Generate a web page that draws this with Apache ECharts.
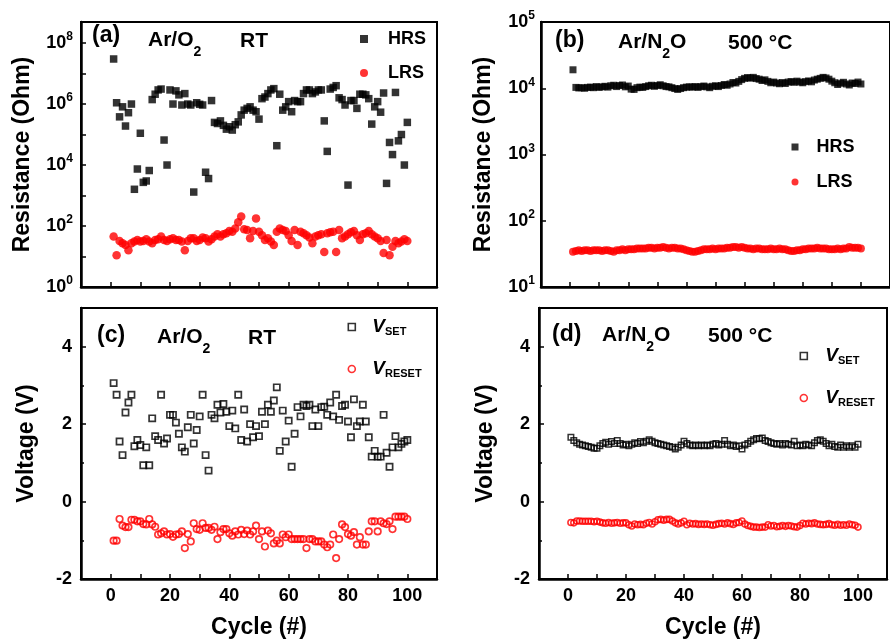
<!DOCTYPE html>
<html><head><meta charset="utf-8">
<script src="https://cdn.jsdelivr.net/npm/echarts@6/dist/echarts.min.js"></script>
<style>html,body{margin:0;padding:0;background:#fff}#c{width:890px;height:641px}</style>
</head><body><div id="c"></div>
<script>
// ---------- data ----------
const cycles = [1,2,3,4,5,6,7,8,9,10,11,12,13,14,15,16,17,18,19,20,21,22,23,24,25,26,27,28,29,30,31,32,33,34,35,36,37,38,39,40,41,42,43,44,45,46,47,48,49,50,51,52,53,54,55,56,57,58,59,60,61,62,63,64,65,66,67,68,69,70,71,72,73,74,75,76,77,78,79,80,81,82,83,84,85,86,87,88,89,90,91,92,93,94,95,96,97,98,99,100];

// (a) Ar/O2 RT resistance (Ohm)
const hrsA = [3.0e7,1.1e6,3.8e5,8.1e5,1.9e5,5.2e5,1.0e6,1.6e3,7.4e3,1.1e5,
 2.7e3,3.0e3,6.6e3,1.4e6,2.1e6,2.9e6,3.1e6,6.6e4,1.0e4,2.9e6,
 1.0e6,2.7e6,2.0e6,9.3e5,2.2e6,1.0e6,9.3e5,1.3e3,1.1e6,9.8e5,
 9.3e5,5.8e3,3.6e3,1.3e6,2.5e5,2.3e5,2.8e5,2.0e5,1.5e5,1.8e5,
 1.4e5,2.1e5,2.6e5,4.4e5,6.3e5,7.2e5,8.1e5,6.3e5,5.6e5,3.2e5,
 1.5e6,1.7e6,2.2e6,2.9e6,3.2e6,4.3e4,2.1e6,6.3e5,8.1e5,1.2e6,
 5.6e5,1.3e6,1.2e6,1.2e6,2.2e6,2.9e6,2.9e6,2.2e6,2.5e6,2.9e6,
 2.9e6,2.8e5,2.8e4,3.1e6,3.5e6,4.0e6,1.6e6,1.4e6,9.3e5,2.2e3,
 1.3e6,1.3e6,7.2e5,2.1e6,2.1e6,2.0e6,1.5e6,2.2e5,8.1e5,1.2e6,
 5.4e5,2.3e6,2.5e3,5.5e4,2.2e4,2.4e6,6.2e4,1.0e5,1.0e4,2.5e5];
const lrsA = [45,11,32,27,24,16,27,31,35,31,
 32,37,31,27,35,37,45,35,32,37,
 40,35,35,31,16,32,40,40,32,35,
 42,40,31,37,45,54,45,54,58,69,
 65,83,132,204,79,74,40,69,178,65,
 50,35,40,31,24,65,83,74,69,50,
 32,74,24,65,58,50,42,27,45,50,
 54,14,58,62,65,14,74,40,45,54,
 62,69,50,35,54,58,69,54,45,40,
 32,13,35,11,21,32,27,31,37,32];

// (b) Ar/N2O 500 C resistance (Ohm)
const hrsB = [19000,10300,10100,10200,10000,10300,10400,10200,10600,10300,
 10500,10700,10400,10900,11100,10600,11000,11200,10500,10800,
 9700,9600,10200,10400,10300,10600,10900,11100,10700,11000,
 11300,10900,10600,10500,10200,9900,9600,9900,10200,10400,
 10500,10400,10600,10300,10600,10800,10500,10200,10700,10900,
 10600,11000,11400,11100,11600,12200,12000,12700,13500,14100,
 14500,14200,14600,14000,13700,13100,13400,12700,12100,12400,
 12000,11700,12200,11800,12400,12600,12300,12800,12400,12100,
 12600,12900,12500,13300,13700,14100,14600,14300,13700,12800,
 12100,11400,11900,12300,11600,11200,12000,11800,12400,11600];
const lrsB = [34,35,36,35,36,36,35,36,36,36,
 35,36,36,35,34,36,36,37,36,37,
 37,37,38,38,38,38,39,39,38,39,
 39,40,39,38,39,39,38,38,37,36,
 35,34,34,35,36,37,37,37,38,37,
 38,38,38,39,39,40,40,39,40,39,
 38,38,37,38,38,37,37,37,38,37,
 37,38,37,37,36,35,35,36,36,37,
 37,38,38,38,39,38,38,38,37,37,
 37,38,37,38,38,40,39,39,39,38];

// (c) Ar/O2 RT voltage (V)
const vsetC = [3.06,2.76,1.55,1.20,2.30,2.56,2.76,1.43,1.59,1.46,
 0.94,1.40,0.94,2.15,1.69,1.59,2.76,1.50,1.63,2.24,
 2.24,2.04,1.75,1.40,1.29,1.92,2.24,1.50,1.85,2.20,
 2.76,1.20,0.80,2.24,2.15,2.50,2.30,2.52,2.32,1.95,
 2.35,1.89,2.76,1.59,2.38,1.55,2.00,1.66,1.95,1.69,
 2.32,2.00,2.50,2.32,2.61,2.95,1.31,2.35,1.55,2.09,
 0.90,1.75,2.44,2.20,2.50,2.47,2.50,1.95,2.38,1.95,
 2.44,2.45,2.24,2.56,2.20,2.76,2.11,2.47,2.50,2.07,
 1.66,2.64,1.95,2.07,2.50,2.07,1.66,1.16,1.31,1.16,
 1.16,2.24,1.26,0.90,1.40,1.69,1.40,1.49,1.55,1.59];
const vresetC = [-1.01,-1.01,-0.45,-0.62,-0.66,-0.66,-0.47,-0.47,-0.51,-0.51,
 -0.58,-0.59,-0.45,-0.59,-0.65,-0.85,-0.82,-0.77,-0.85,-0.84,
 -0.91,-0.85,-0.84,-0.77,-1.20,-0.84,-1.03,-0.56,-0.71,-0.73,
 -0.56,-0.68,-0.68,-0.73,-0.65,-0.97,-0.79,-0.71,-0.71,-0.82,
 -0.88,-0.77,-0.85,-0.73,-0.84,-0.75,-0.85,-0.77,-0.62,-0.97,
 -0.77,-1.16,-0.75,-0.82,-1.08,-1.01,-1.08,-0.85,-0.92,-0.85,
 -0.97,-0.97,-0.97,-0.97,-0.97,-1.20,-0.97,-0.97,-1.03,-1.03,
 -1.03,-1.11,-1.18,-1.11,-0.85,-1.46,-0.97,-0.59,-0.66,-0.84,
 -0.88,-0.79,-1.11,-0.92,-1.11,-1.11,-0.77,-0.51,-0.51,-0.77,
 -0.51,-0.56,-0.58,-0.51,-0.71,-0.39,-0.39,-0.39,-0.39,-0.45];

// (d) Ar/N2O 500 C voltage (V)
const vsetD = [1.66,1.58,1.52,1.48,1.46,1.44,1.42,1.40,1.38,1.38,
 1.44,1.50,1.53,1.48,1.55,1.50,1.58,1.50,1.46,1.48,
 1.44,1.48,1.52,1.50,1.55,1.52,1.56,1.60,1.56,1.52,
 1.50,1.48,1.46,1.44,1.42,1.40,1.36,1.40,1.46,1.56,
 1.50,1.46,1.44,1.46,1.44,1.46,1.44,1.46,1.44,1.48,
 1.50,1.46,1.48,1.58,1.48,1.44,1.46,1.42,1.44,1.36,
 1.46,1.50,1.56,1.60,1.63,1.62,1.64,1.58,1.55,1.52,
 1.50,1.48,1.50,1.46,1.50,1.48,1.46,1.56,1.44,1.46,
 1.44,1.48,1.46,1.44,1.52,1.58,1.60,1.56,1.50,1.44,
 1.48,1.42,1.40,1.46,1.40,1.44,1.40,1.44,1.40,1.48];
const vresetD = [-0.54,-0.55,-0.50,-0.50,-0.51,-0.51,-0.51,-0.51,-0.52,-0.51,
 -0.53,-0.55,-0.56,-0.54,-0.56,-0.55,-0.54,-0.56,-0.55,-0.55,
 -0.60,-0.63,-0.58,-0.60,-0.59,-0.60,-0.56,-0.54,-0.58,-0.52,
 -0.47,-0.46,-0.48,-0.46,-0.46,-0.50,-0.55,-0.58,-0.55,-0.51,
 -0.60,-0.56,-0.58,-0.57,-0.59,-0.58,-0.59,-0.58,-0.60,-0.61,
 -0.59,-0.57,-0.56,-0.58,-0.55,-0.57,-0.59,-0.55,-0.54,-0.50,
 -0.58,-0.62,-0.64,-0.66,-0.66,-0.67,-0.66,-0.66,-0.60,-0.63,
 -0.62,-0.65,-0.64,-0.62,-0.64,-0.62,-0.63,-0.65,-0.66,-0.62,
 -0.56,-0.58,-0.56,-0.57,-0.55,-0.58,-0.59,-0.60,-0.59,-0.57,
 -0.60,-0.61,-0.59,-0.61,-0.60,-0.61,-0.58,-0.60,-0.61,-0.66];

const xTickLabels = [0,20,40,60,80,100];

// ---------- chart ----------
const FONT = '"Liberation Sans", Arial, Helvetica, sans-serif';
const BLACK = '#000';
const RED = '#ff0000';
const chart = echarts.init(document.getElementById('c'), null, {renderer: 'canvas'});
const pairs = arr => cycles.map((c, i) => [c, arr[i]]);

const axisLineCfg = {show: true, onZero: false, lineStyle: {color: BLACK, width: 2.5}};
const tickCfg = {show: true, inside: true, length: 5, lineStyle: {color: BLACK, width: 1.5}};
const titleStyle = {fontSize: 23, fontWeight: 'bold', fontFamily: FONT, color: BLACK};

function xAxisCfg(gi, showLabels) {
  return {
    type: 'value', gridIndex: gi, min: -10, max: 110, interval: 10,
    axisLine: axisLineCfg, axisTick: tickCfg, splitLine: {show: false},
    axisLabel: {show: showLabels, margin: 8, fontSize: 18, fontWeight: 'bold', color: BLACK, fontFamily: FONT,
      formatter: v => xTickLabels.indexOf(v) >= 0 ? String(v) : ''},
    name: showLabels ? 'Cycle (#)' : '', nameLocation: 'middle', nameGap: 37, nameTextStyle: titleStyle
  };
}
function logAxisCfg(gi, min, max, evenOnly, margin, nameGap) {
  return {
    type: 'log', logBase: 10, gridIndex: gi, min: min, max: max,
    axisLine: axisLineCfg, axisTick: tickCfg, splitLine: {show: false},
    axisLabel: {margin: margin,
      formatter: v => {
        const e = Math.log10(v), r = Math.round(e);
        if (Math.abs(e - r) > 1e-6) return '';
        if (evenOnly && r % 2 !== 0) return '';
        return '{b|10}{s|' + r + '}';
      },
      rich: {
        b: {fontSize: 18, fontWeight: 'bold', fontFamily: FONT, color: BLACK, lineHeight: 24},
        s: {fontSize: 12, fontWeight: 'bold', fontFamily: FONT, color: BLACK, lineHeight: 12, verticalAlign: 'top'}
      }},
    name: 'Resistance (Ohm)', nameLocation: 'middle', nameGap: nameGap, nameTextStyle: titleStyle
  };
}
function voltAxisCfg(gi, nameGap) {
  return {
    type: 'value', gridIndex: gi, min: -2, max: 5, interval: 2,
    axisLine: axisLineCfg, axisTick: tickCfg,
    minorTick: {show: true, splitNumber: 2, length: 3, lineStyle: {color: BLACK, width: 1.5}},
    splitLine: {show: false},
    axisLabel: {margin: 9, fontSize: 18, fontWeight: 'bold', color: BLACK, fontFamily: FONT,
      formatter: v => (v === 5 ? '' : String(v))},
    name: 'Voltage (V)', nameLocation: 'middle', nameGap: nameGap, nameTextStyle: titleStyle
  };
}
function legendCfg(names, left, top, gap, pad, size, bw, rich) {
  const cfg = {
    data: names, orient: 'vertical', left: left, top: top, itemGap: gap, padding: 0,
    itemWidth: size, itemHeight: size, selectedMode: false,
    itemStyle: {borderWidth: bw},
    textStyle: {fontSize: 18, fontWeight: 'bold', color: BLACK, fontFamily: FONT, lineHeight: 20, padding: [0, 0, 0, pad]}
  };
  if (rich) {
    cfg.formatter = n => (n === 'VSET' ? '{v|V}{s|SET}' : '{v|V}{s|RESET}');
    cfg.textStyle.rich = {
      v: {fontSize: 19, fontWeight: 'bold', fontStyle: 'italic', fontFamily: FONT, color: BLACK, lineHeight: 20},
      s: {fontSize: 11, fontWeight: 'bold', fontFamily: FONT, color: BLACK, lineHeight: 12, verticalAlign: 'bottom'}
    };
  }
  return cfg;
}
function plainText(x, y, text, size) {
  return {type: 'text', x: x, y: y, z: 10,
    style: {text: text, fontSize: size, fontWeight: 'bold', fontFamily: FONT, fill: BLACK, align: 'left', verticalAlign: 'middle'}};
}
function chemText(x, capY, text) {
  return {type: 'text', x: x, y: capY - 11, z: 10,
    style: {text: text, fontSize: 21, fontWeight: 'bold', fontFamily: FONT, fill: BLACK, align: 'left', verticalAlign: 'top',
      rich: {
        b: {fontSize: 21, fontWeight: 'bold', fontFamily: FONT, fill: BLACK, lineHeight: 22, verticalAlign: 'top'},
        s: {fontSize: 14, fontWeight: 'bold', fontFamily: FONT, fill: BLACK, lineHeight: 14, verticalAlign: 'top', padding: [15, 0, 0, 0]}
      }}};
}

const gridBase = {show: true, borderColor: BLACK, borderWidth: 2, backgroundColor: 'transparent', containLabel: false};
const hollow = (c, w) => ({color: 'rgba(255,255,255,0)', borderColor: c, borderWidth: w});

const option = {
  animation: false,
  backgroundColor: '#fff',
  grid: [
    Object.assign({left: 81, top: 22, width: 356, height: 265}, gridBase),
    Object.assign({left: 541, top: 22, width: 357, height: 265}, gridBase),
    Object.assign({left: 81, top: 308, width: 356, height: 271}, gridBase),
    Object.assign({left: 539, top: 308, width: 359, height: 271}, gridBase)
  ],
  xAxis: [xAxisCfg(0, false), xAxisCfg(1, false), xAxisCfg(2, true), xAxisCfg(3, true)],
  yAxis: [
    logAxisCfg(0, 1, 4.9e8, true, 8, 47),
    logAxisCfg(1, 10, 1e5, false, 6, 46),
    voltAxisCfg(2, 43),
    voltAxisCfg(3, 42)
  ],
  legend: [
    legendCfg(['HRS', 'LRS'], 360, 29, 14, 15, 8, 0, false),
    legendCfg(['HRS', 'LRS'], 791.5, 137, 15, 13, 7, 0, false),
    legendCfg(['VSET', 'VRESET'], 347.5, 317, 22, 12, 7, 1.6, true),
    legendCfg(['VSET', 'VRESET'], 799.5, 346, 22, 13, 7, 1.6, true)
  ],
  series: [
    {name: 'HRS', type: 'scatter', xAxisIndex: 0, yAxisIndex: 0, symbol: 'rect', symbolSize: 7.5,
      itemStyle: {color: BLACK}, data: pairs(hrsA)},
    {name: 'LRS', type: 'scatter', xAxisIndex: 0, yAxisIndex: 0, symbol: 'circle', symbolSize: 8.5,
      itemStyle: {color: RED}, data: pairs(lrsA)},
    {name: 'HRS', type: 'scatter', xAxisIndex: 1, yAxisIndex: 1, symbol: 'rect', symbolSize: 7,
      itemStyle: {color: BLACK}, data: pairs(hrsB)},
    {name: 'LRS', type: 'scatter', xAxisIndex: 1, yAxisIndex: 1, symbol: 'circle', symbolSize: 8,
      itemStyle: {color: RED}, data: pairs(lrsB)},
    {name: 'VSET', type: 'scatter', xAxisIndex: 2, yAxisIndex: 2, symbol: 'rect', symbolSize: 6.2,
      itemStyle: hollow(BLACK, 1.7), data: pairs(vsetC)},
    {name: 'VRESET', type: 'scatter', xAxisIndex: 2, yAxisIndex: 2, symbol: 'circle', symbolSize: 6.5,
      itemStyle: hollow(RED, 1.7), data: pairs(vresetC)},
    {name: 'VSET', type: 'scatter', xAxisIndex: 3, yAxisIndex: 3, symbol: 'rect', symbolSize: 5.5,
      itemStyle: hollow(BLACK, 1.5), data: pairs(vsetD)},
    {name: 'VRESET', type: 'scatter', xAxisIndex: 3, yAxisIndex: 3, symbol: 'circle', symbolSize: 6,
      itemStyle: hollow(RED, 1.6), data: pairs(vresetD)}
  ],
  graphic: [
    plainText(92, 36, '(a)', 23),
    chemText(148, 41, '{b|Ar/O}{s|2}'),
    plainText(240, 41, 'RT', 21),
    plainText(555, 41, '(b)', 23),
    chemText(618, 43, '{b|Ar/N}{s|2}{b|O}'),
    plainText(728, 43, '500 °C', 21),
    plainText(97, 336, '(c)', 23),
    chemText(157, 338, '{b|Ar/O}{s|2}'),
    plainText(248, 338, 'RT', 21),
    plainText(552, 335, '(d)', 23),
    chemText(602, 336, '{b|Ar/N}{s|2}{b|O}'),
    plainText(708, 336, '500 °C', 21)
  ]
};
chart.setOption(option);
</script>
</body></html>
